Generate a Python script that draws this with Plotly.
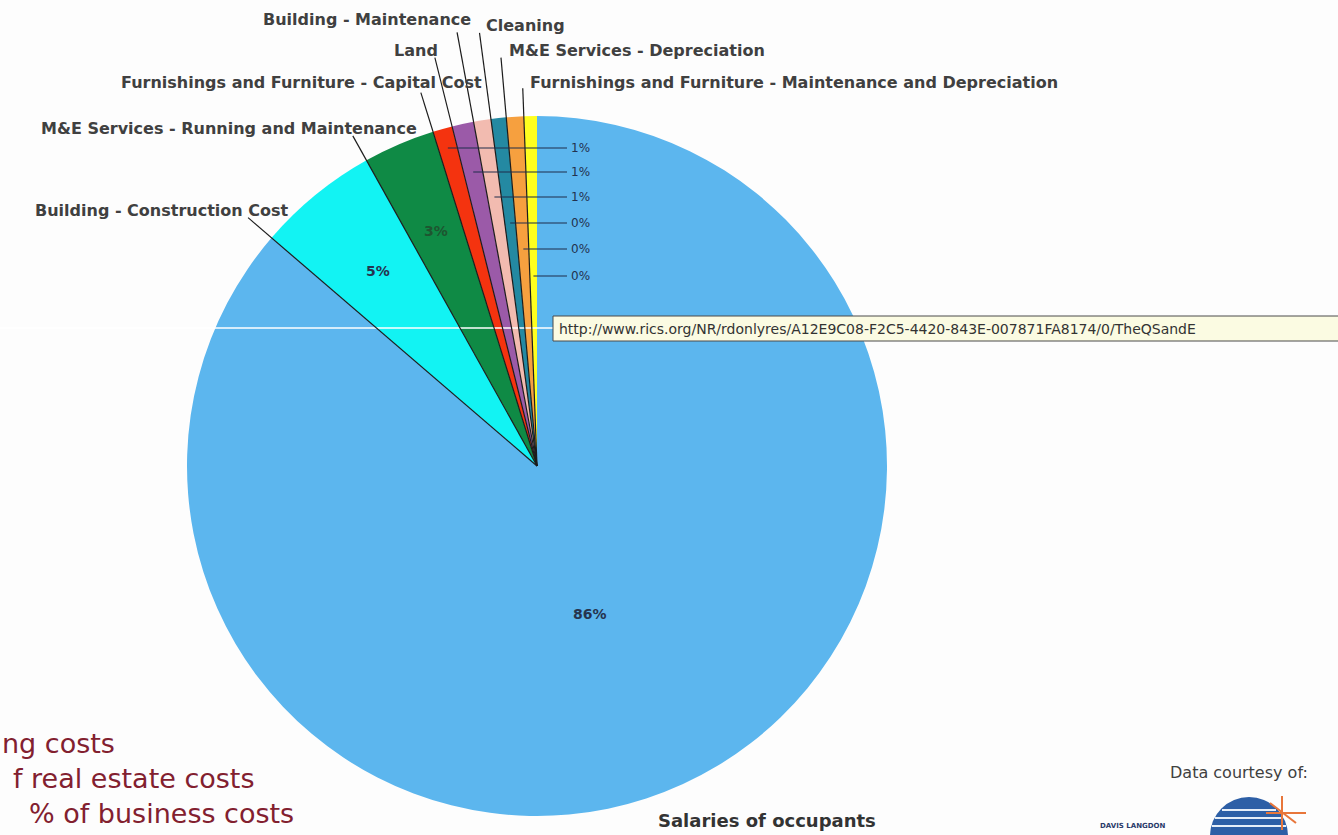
import math
import plotly.graph_objects as go

# ---------------- data ----------------
categories = [
    "Salaries of occupants",
    "Building - Construction Cost",
    "M&E Services - Running and Maintenance",
    "Furnishings and Furniture - Capital Cost",
    "Land",
    "Building - Maintenance",
    "Cleaning",
    "M&E Services - Depreciation",
    "Furnishings and Furniture - Maintenance and Depreciation",
]
values = [86.3, 5.6, 3.3, 0.9, 1.0, 0.8, 0.7, 0.8, 0.6]
pct_labels = ["86%", "5%", "3%", "1%", "1%", "1%", "0%", "0%", "0%"]

# ---------------- styles / layout ----------------
colors = ["#5cb6ee", "#12f3f3", "#0f8a45", "#f4330f", "#9b5aa8",
          "#f2bbb0", "#2489a2", "#f6a03f", "#ffff1f"]

W, H = 1338, 835
CX, CY, R = 537, 466, 350

def paper(px, py):
    return px / W, 1 - py / H

total = sum(values)
starts, mids = [], []
acc = 0.0
for v in values:
    a0 = 360.0 * acc / total
    a1 = 360.0 * (acc + v) / total
    starts.append(a0)
    mids.append((a0 + a1) / 2)
    acc += v

def polar(theta, r):
    t = math.radians(theta)
    return CX + r * math.sin(t), CY - r * math.cos(t)

fig = go.Figure()
fig.add_trace(go.Pie(
    labels=categories, values=values, sort=False, direction="clockwise",
    rotation=0, marker=dict(colors=colors, line=dict(width=0)),
    textinfo="none", hoverinfo="label+percent", showlegend=False,
    domain=dict(x=[(CX - R) / W, (CX + R) / W],
                y=[1 - (CY + R) / H, 1 - (CY - R) / H]),
))

shapes = []
annotations = []

# white horizontal line across the pie
x0, y0 = paper(0, 328)
x1, y1 = paper(553, 328)
shapes.append(dict(type="line", xref="paper", yref="paper", x0=x0, y0=y0, x1=x1, y1=y1,
                   line=dict(color="#ffffff", width=1.5)))

# category leader lines (radial, along each slice's start edge)
leader_r = [None, 381, 378, 391, 421, 441, 437, 410, 378]
for i in range(1, len(values)):
    ex, ey = polar(starts[i], leader_r[i])
    ax, ay = paper(CX, CY)
    bx, by = paper(ex, ey)
    shapes.append(dict(type="line", xref="paper", yref="paper", x0=ax, y0=ay, x1=bx, y1=by,
                       line=dict(color="#1c1c1c", width=1.2)))

# category labels
label_pos = {
    0: (767, 820, "center"),
    1: (291, 210, "right"),
    2: (419, 128, "right"),
    3: (484, 83, "right"),
    4: (440, 50, "right"),
    5: (473, 20, "right"),
    6: (484, 25, "left"),
    7: (507, 50, "left"),
    8: (528, 83, "left"),
}
for i, (lx, ly, anc) in label_pos.items():
    px_, py_ = paper(lx, ly)
    size = 18 if i == 0 else 16
    col = "#333333" if i == 0 else "#404040"
    annotations.append(dict(x=px_, y=py_, xref="paper", yref="paper", text=categories[i],
                            showarrow=False, xanchor=anc, yanchor="middle",
                            font=dict(family="DejaVu Sans", size=size, color=col, weight="bold")))

# inside percentage labels: (angle offset from slice middle, radius fraction)
inner = {0: (5.0, 0.45), 1: (0.0, 0.72), 2: (0.0, 0.73)}
for i, (doff, frac) in inner.items():
    tx, ty = polar(mids[i] + doff, R * frac)
    px_, py_ = paper(tx, ty)
    col = "#1e5530" if i == 2 else "#26344f"
    annotations.append(dict(x=px_, y=py_, xref="paper", yref="paper", text=pct_labels[i],
                            showarrow=False, xanchor="center", yanchor="middle",
                            font=dict(family="DejaVu Sans", size=14, color=col, weight="bold")))

# small-slice percentage labels with horizontal leaders
small_y = [148, 172, 197, 223, 249, 276]
for k, i in enumerate(range(3, len(values))):
    yy = small_y[k]
    t = math.radians(mids[i])
    sx = CX + (CY - yy) * math.tan(t)
    a = paper(sx, yy)
    b = paper(567, yy)
    shapes.append(dict(type="line", xref="paper", yref="paper", x0=a[0], y0=a[1], x1=b[0], y1=b[1],
                       line=dict(color="#1f2d4a", width=1.2)))
    tp = paper(569, yy)
    annotations.append(dict(x=tp[0], y=tp[1], xref="paper", yref="paper", text=pct_labels[i],
                            showarrow=False, xanchor="left", yanchor="middle",
                            font=dict(family="DejaVu Sans", size=12, color="#23324f")))

# hyperlink tooltip box
bx0, by0 = paper(553, 316)
bx1, by1 = paper(1345, 341)
shapes.append(dict(type="rect", xref="paper", yref="paper", x0=bx0, y0=by1, x1=bx1, y1=by0,
                   fillcolor="#fbfbe2", line=dict(color="#4a4a4a", width=1)))
tp = paper(557, 329)
annotations.append(dict(x=tp[0], y=tp[1], xref="paper", yref="paper",
                        text="http://www.rics.org/NR/rdonlyres/A12E9C08-F2C5-4420-843E-007871FA8174/0/TheQSandE",
                        showarrow=False, xanchor="left", yanchor="middle",
                        font=dict(family="DejaVu Sans", size=14, color="#333333")))

# slide text fragments bottom-left
slide_lines = [("ng costs", 0, 743, "left"), ("f real estate costs", 257, 778, "right"),
               ("% of business costs", 296, 813, "right")]
for txt, xr, yy, anc in slide_lines:
    p = paper(xr, yy)
    annotations.append(dict(x=p[0], y=p[1], xref="paper", yref="paper", text=txt,
                            showarrow=False, xanchor=anc, yanchor="middle",
                            font=dict(family="DejaVu Sans", size=27, color="#82202f")))

# data courtesy
p = paper(1310, 772)
annotations.append(dict(x=p[0], y=p[1], xref="paper", yref="paper", text="Data courtesy of:",
                        showarrow=False, xanchor="right", yanchor="middle",
                        font=dict(family="DejaVu Sans", size=16, color="#404040")))
p = paper(1098, 826)
annotations.append(dict(x=p[0], y=p[1], xref="paper", yref="paper", text="DAVIS LANGDON",
                        showarrow=False, xanchor="left", yanchor="middle",
                        font=dict(family="DejaVu Sans", size=7, color="#2a3a6a", weight="bold")))

# logo globe
gx0, gy0 = paper(1210, 797)
gx1, gy1 = paper(1288, 875)
shapes.append(dict(type="circle", xref="paper", yref="paper", x0=gx0, y0=gy1, x1=gx1, y1=gy0,
                   fillcolor="#2d5fa6", line=dict(width=0)))
for yy, xa, xb in [(810, 1222, 1276), (818, 1215, 1283), (826, 1212, 1286)]:
    a = paper(xa, yy)
    b = paper(xb, yy)
    shapes.append(dict(type="line", xref="paper", yref="paper", x0=a[0], y0=a[1], x1=b[0], y1=b[1],
                       line=dict(color="#e6eef8", width=2)))
for (xa, ya, xb, yb) in [(1282, 796, 1282, 830), (1266, 813, 1306, 813), (1270, 803, 1296, 823)]:
    a = paper(xa, ya)
    b = paper(xb, yb)
    shapes.append(dict(type="line", xref="paper", yref="paper", x0=a[0], y0=a[1], x1=b[0], y1=b[1],
                       line=dict(color="#e8763a", width=2)))

fig.update_layout(
    width=W, height=H, margin=dict(l=0, r=0, t=0, b=0),
    paper_bgcolor="#fdfdfd", plot_bgcolor="#fdfdfd",
    shapes=shapes, annotations=annotations, showlegend=False,
)

fig.write_html("out.html", config={"displayModeBar": False},
               post_script="document.body.style.margin='0';document.body.style.overflow='hidden';")
